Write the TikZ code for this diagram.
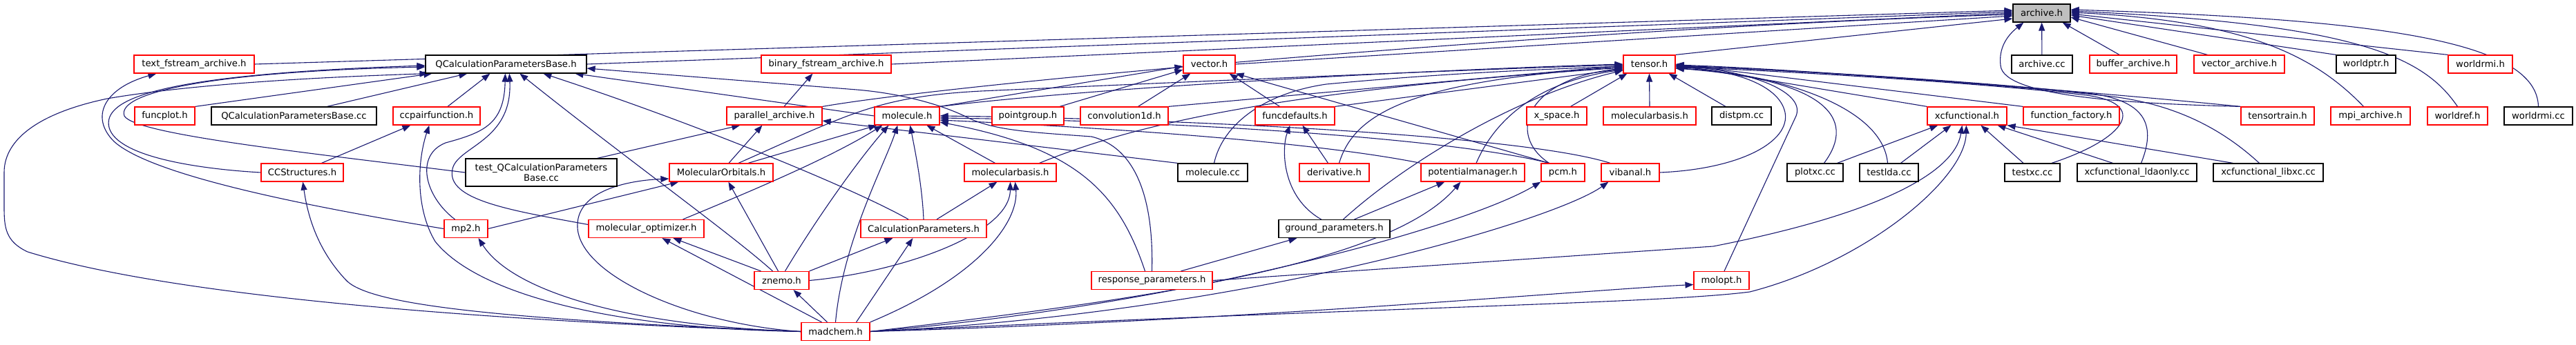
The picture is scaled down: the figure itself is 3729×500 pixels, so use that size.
\documentclass[tikz,border=0pt]{standalone}
\usepackage{fontspec}
\setmainfont{DejaVu Sans}
\usetikzlibrary{arrows.meta}
\pgfdeclarelayer{bg}
\pgfsetlayers{bg,main}
\definecolor{edgec}{HTML}{191970}
\definecolor{redb}{HTML}{FF0000}
\definecolor{grayf}{HTML}{BFBFBF}
\newcommand\mk[6]{\node[#5,minimum width=#4pt] (#1) at (#2,#3) {#6};}
\begin{document}
\begin{tikzpicture}[x=1pt,y=-1pt,
  box/.style={draw, line width=1.2pt, inner sep=1pt, minimum height=26pt, fill=white, font=\fontsize{13.2}{15}\selectfont},
  rbox/.style={box, draw=redb},
  kbox/.style={box, draw=black},
  gbox/.style={box, draw=black, fill=grayf},
  e/.style={draw=edgec, line width=1.1pt, -{Triangle[length=12pt,width=9pt]}}]
\useasboundingbox (0,0) rectangle (3729,500);
% row 0
\mk{arc}{2955.5}{19}{83}{gbox}{archive.h}
% row 1
\mk{tfa}{281}{93}{174}{rbox}{text\_fstream\_archive.h}
\mk{qcb}{732.5}{93}{233}{kbox}{QCalculationParametersBase.h}
\mk{bfa}{1196}{93}{188}{rbox}{binary\_fstream\_archive.h}
\mk{vec}{1750.5}{93}{75}{rbox}{vector.h}
\mk{ten}{2387.5}{93}{75}{rbox}{tensor.h}
\mk{acc}{2956}{93}{88}{kbox}{archive.cc}
\mk{buf}{3088}{93}{126}{rbox}{buffer\_archive.h}
\mk{vea}{3241.5}{93}{131}{rbox}{vector\_archive.h}
\mk{wpt}{3425}{93}{86}{kbox}{worldptr.h}
\mk{wrh}{3590.5}{93}{93}{rbox}{worldrmi.h}
% row 2
\mk{fpl}{238.5}{168}{87}{rbox}{funcplot.h}
\mk{qcc}{425.5}{168}{239}{kbox}{QCalculationParametersBase.cc}
\mk{ccp}{632}{168}{126}{rbox}{ccpairfunction.h}
\mk{par}{1121}{168}{138}{rbox}{parallel\_archive.h}
\mk{mol}{1313}{168}{94}{rbox}{molecule.h}
\mk{pgr}{1488}{168}{104}{rbox}{pointgroup.h}
\mk{cv1}{1627.5}{168}{127}{rbox}{convolution1d.h}
\mk{fdf}{1874.5}{168}{115}{rbox}{funcdefaults.h}
\mk{xsp}{2253.5}{168}{87}{rbox}{x\_space.h}
\mk{mbb}{2388}{168}{134}{rbox}{molecularbasis.h}
\mk{dpm}{2521}{168}{86}{kbox}{distpm.cc}
\mk{xcf}{2847.5}{168}{115}{rbox}{xcfunctional.h}
\mk{ffa}{2998.5}{168}{139}{rbox}{function\_factory.h}
\mk{ttr}{3297}{168}{106}{rbox}{tensortrain.h}
\mk{mpa}{3431.5}{168}{115}{rbox}{mpi\_archive.h}
\mk{wrf}{3557.5}{168}{87}{rbox}{worldref.h}
\mk{wrc}{3674.5}{168}{99}{kbox}{worldrmi.cc}
% row 3
\mk{ccs}{437.5}{250}{119}{rbox}{CCStructures.h}
\mk{tqc}{783.5}{250}{219}{kbox,minimum height=40pt,align=center}{test\_QCalculationParameters\\Base.cc}
\mk{mor}{1044}{250}{150}{rbox}{MolecularOrbitals.h}
\mk{mba}{1462.5}{250}{133}{rbox}{molecularbasis.h}
\mk{mcc}{1755.5}{250}{101}{kbox}{molecule.cc}
\mk{der}{1931.5}{250}{101}{rbox}{derivative.h}
\mk{pot}{2132}{250}{150}{rbox}{potentialmanager.h}
\mk{pcm}{2262.5}{250}{63}{rbox}{pcm.h}
\mk{vib}{2360}{250}{84}{rbox}{vibanal.h}
\mk{pxc}{2627.5}{250}{81}{kbox}{plotxc.cc}
\mk{tld}{2734.5}{250}{85}{kbox}{testlda.cc}
\mk{txc}{2942}{250}{80}{kbox}{testxc.cc}
\mk{xld}{3093.5}{250}{173}{kbox}{xcfunctional\_ldaonly.cc}
\mk{xlb}{3283.5}{250}{159}{kbox}{xcfunctional\_libxc.cc}
% row 4
\mk{mp2}{674.5}{331.5}{63}{rbox}{mp2.h}
\mk{mop}{935.5}{331.5}{167}{rbox}{molecular\_optimizer.h}
\mk{cpa}{1337}{331.5}{182}{rbox}{CalculationParameters.h}
\mk{gpa}{1931.5}{331.5}{161}{kbox}{ground\_parameters.h}
% row 5
\mk{zne}{1131.5}{406.5}{79}{rbox}{znemo.h}
\mk{rsp}{1667.5}{406.5}{175}{rbox}{response\_parameters.h}
\mk{mlo}{2492}{406.5}{80}{rbox}{molopt.h}
% row 6
\mk{mad}{1209.5}{480.5}{99}{rbox}{madchem.h}

\begin{pgfonlayer}{bg}
% archive.h
\draw[e] (tfa.east) -- ([yshift=4pt]arc.west);
\draw[e] (qcb.east) -- ([yshift=2pt]arc.west);
\draw[e] (bfa.east) -- ([yshift=0pt]arc.west);
\draw[e] (par.north east) .. controls (1400,118) and (2300,40) .. ([yshift=-2pt]arc.west);
\draw[e] (vec.east) -- ([yshift=-4pt]arc.west);
\draw[e] (ten.north east) -- ([yshift=-8pt]arc.west);
\draw[e] (acc) -- (arc);
\draw[e] (ttr.north west) .. controls (3080,150) and (2900,140) .. (2896,95) .. controls (2893,70) and (2905,52) .. ([xshift=16pt]arc.south west);
\draw[e] ([xshift=-20pt]buf.north) -- ([xshift=-12pt]arc.south east);
\draw[e] ([xshift=-46pt]vea.north) -- ([yshift=-6pt]arc.east);
\draw[e] (wpt.north west) -- ([yshift=-3pt]arc.east);
\draw[e] (wrh.north west) -- ([yshift=-1pt]arc.east);
\draw[e] (wrc.north) .. controls (3672,60) and (3450,28) .. ([yshift=5pt]arc.east);
\draw[e] ([xshift=-10pt]mpa.north) .. controls (3350,80) and (3250,30) .. ([yshift=1pt]arc.east);
\draw[e] (wrf.north) .. controls (3510,85) and (3420,35) .. ([yshift=3pt]arc.east);
% QCalculationParametersBase.h
\draw[e] (fpl.north east) -- ([xshift=10pt]qcb.south west);
\draw[e] ([xshift=48pt]qcc.north) -- ([xshift=61pt]qcb.south west);
\draw[e] ([xshift=16pt]ccp.north) -- ([xshift=94pt]qcb.south west);
\draw[e] ([xshift=-16pt]mp2.north) .. controls (615,285) and (600,225) .. (645,207) .. controls (700,192) and (730,180) .. ([xshift=116pt]qcb.south west);
\draw[e] ([yshift=6pt]mop.west) .. controls (740,305) and (645,290) .. (655,245) .. controls (662,212) and (742,205) .. ([xshift=122pt]qcb.south west);
\draw[e] ([xshift=-13pt]zne.north) .. controls (1060,340) and (900,225) .. ([xshift=137pt]qcb.south west);
\draw[e] ([xshift=-22pt]cpa.north) .. controls (1240,275) and (1010,180) .. ([xshift=171pt]qcb.south west);
\draw[e] (mol.west) -- ([xshift=217pt]qcb.south west);
\draw[e] (rsp.north) .. controls (1670,300) and (1650,215) .. (1580,198) .. controls (1500,192) and (1440,190) .. (1400,170) .. controls (1360,150) and (1300,135) .. (1240,130) -- ([yshift=-6pt]qcb.east);
\draw[e] (ccs.west) .. controls (290,245) and (170,228) .. (158,185) .. controls (148,145) and (220,108) .. ([yshift=-2pt]qcb.west);
\draw[e] (tqc.west) .. controls (450,222) and (195,195) .. (180,168) .. controls (168,135) and (300,104) .. ([yshift=-4pt]qcb.west);
\draw[e] (mad.west) .. controls (700,465) and (250,430) .. (40,365) .. controls (8,350) and (6,330) .. (6,300) -- (6,250) .. controls (6,200) and (60,163) .. (155,143) .. controls (300,118) and (520,110) .. ([xshift=4pt]qcb.south west);
% text_fstream_archive.h
\draw[e] (mp2.west) .. controls (450,300) and (220,255) .. (165,205) .. controls (130,170) and (150,128) .. ([xshift=33pt]tfa.south west);
% binary_fstream_archive.h
\draw[e] ([xshift=14pt]par.north) -- ([xshift=75pt]bfa.south west);
% parallel_archive.h
\draw[e] ([xshift=81pt]tqc.north) -- ([xshift=20pt]par.south west);
\draw[e] ([xshift=11pt]mor.north) -- ([xshift=52pt]par.south west);
\draw[e] (mcc.north west) -- ([yshift=-7pt]par.east);
% vector.h
\draw[e] ([xshift=46pt]pgr.north) -- ([yshift=-8pt]vec.west);
\draw[e] ([xshift=20pt]cv1.north) -- ([xshift=11pt]vec.south west);
\draw[e] ([xshift=-22pt]fdf.north) -- ([xshift=-9pt]vec.south east);
\draw[e] (mol.north east) -- ([yshift=-3pt]vec.west);
\draw[e] ([xshift=-20pt]pcm.north) -- (vec.south east);
% molecule.h
\draw[e] ([xshift=39pt]mor.north) -- ([xshift=4pt]mol.south west);
\draw[e] ([xshift=53pt]mop.north) .. controls (1080,280) and (1200,230) .. ([xshift=12pt]mol.south west);
\draw[e] ([xshift=5pt]zne.north) .. controls (1180,320) and (1240,235) .. ([xshift=21pt]mol.south west);
\draw[e] (mad.north) .. controls (1220,350) and (1280,240) .. ([xshift=34pt]mol.south west);
\draw[e] (cpa.north) .. controls (1335,270) and (1325,220) .. ([xshift=52pt]mol.south west);
\draw[e] ([xshift=-22pt]mba.north) -- ([xshift=76pt]mol.south west);
\draw[e] ([xshift=-10pt]rsp.north) .. controls (1620,280) and (1560,215) .. ([yshift=-9pt]mol.east);
\draw[e] (pot.north west) .. controls (1900,205) and (1600,185) .. ([yshift=-6pt]mol.east);
\draw[e] ([xshift=-20pt]pcm.north) .. controls (2100,200) and (1700,175) .. ([yshift=-3pt]mol.east);
\draw[e] ([xshift=-29pt]vib.north) .. controls (2200,195) and (1700,172) .. (mol.east);
% molecularbasis.h (row 3)
\draw[e] ([xshift=19pt]cpa.north) -- ([xshift=-19pt]mba.south);
\draw[e] (zne.east) .. controls (1300,395) and (1462,340) .. (mba.south);
\draw[e] (mad.north east) .. controls (1420,400) and (1475,320) .. ([xshift=7pt]mba.south);
% CalculationParameters.h
\draw[e] (zne.north east) -- ([xshift=47pt]cpa.south west);
\draw[e] ([xshift=30pt]mad.north) -- ([xshift=76pt]cpa.south west);
% MolecularOrbitals.h
\draw[e] (mp2.east) -- ([xshift=14pt]mor.south west);
\draw[e] (mad.west) .. controls (1000,470) and (840,400) .. (836,330) .. controls (833,280) and (900,262) .. ([yshift=-9pt]mor.west);
\draw[e] ([xshift=-5pt]zne.north) -- ([xshift=86pt]mor.south west);
% molecular_optimizer.h
\draw[e] ([xshift=-30pt]zne.north) -- ([xshift=123pt]mop.south west);
\draw[e] ([xshift=-20pt]mad.north) -- ([xshift=107pt]mop.south west);
% znemo.h
\draw[e] ([xshift=-12pt]mad.north) -- ([xshift=17pt]zne.south);
% mp2.h
\draw[e] (mad.west) .. controls (900,472) and (740,420) .. ([xshift=18pt]mp2.south);
% ccpairfunction.h
\draw[e] ([xshift=28pt]ccs.north) -- ([xshift=26pt]ccp.south west);
\draw[e] (mad.west) .. controls (880,476) and (690,425) .. (630,350) .. controls (600,300) and (605,230) .. ([xshift=53pt]ccp.south west);
% CCStructures.h
\draw[e] (mad.west) .. controls (700,462) and (530,440) .. (500,405) .. controls (458,360) and (445,310) .. ([xshift=61pt]ccs.south west);
% funcdefaults.h
\draw[e] ([xshift=-9pt]der.north) -- ([xshift=69pt]fdf.south west);
\draw[e] ([xshift=-19pt]gpa.north) .. controls (1855,285) and (1855,215) .. ([xshift=51pt]fdf.south west);
% ground_parameters.h
\draw[e] ([xshift=42pt]rsp.north) -- ([xshift=27pt]gpa.south west);
% potentialmanager.h
\draw[e] ([xshift=29pt]gpa.north) -- ([xshift=35pt]pot.south west);
\draw[e] (mad.east) .. controls (1650,435) and (2010,385) .. ([xshift=58pt]pot.south west);
% pcm.h, vibanal.h, molopt.h
\draw[e] (mad.east) .. controls (1700,445) and (2120,330) .. (pcm.south west);
\draw[e] (mad.east) .. controls (1800,455) and (2250,320) .. ([xshift=11pt]vib.south west);
\draw[e] (mad.east) .. controls (1800,465) and (2300,420) .. ([yshift=-6pt]mlo.west);
% xcfunctional.h
\draw[e] ([xshift=32pt]pxc.north) -- ([xshift=16pt]xcf.south west);
\draw[e] ([xshift=17pt]tld.north) -- ([xshift=35pt]xcf.south west);
\draw[e] ([xshift=-13pt]txc.north) -- ([xshift=78pt]xcf.south west);
\draw[e] ([xshift=-35pt]xld.north) -- ([xshift=102pt]xcf.south west);
\draw[e] ([xshift=-51pt]xlb.north) -- (xcf.south east);
\draw[e] (rsp.east) -- (2480,357) .. controls (2720,310) and (2830,250) .. ([xshift=51pt]xcf.south west);
\draw[e] (mad.east) .. controls (2000,445) and (2400,440) .. (2533,423) .. controls (2700,380) and (2845,260) .. ([xshift=57pt]xcf.south west);
% tensor.h
\draw[e] (xcf.north west) -- ([yshift=-1pt]ten.east);
\draw[e] ([xshift=20pt]xsp.north) -- ([xshift=6pt]ten.south west);
\draw[e] (mbb.north) -- (ten.south);
\draw[e] ([xshift=-23pt]dpm.north) -- ([xshift=-10pt]ten.south east);
\draw[e] (ffa.north west) -- (ten.east);
\draw[e] ([xshift=13pt]pxc.north) .. controls (2690,170) and (2640,115) .. ([yshift=-6pt]ten.east);
\draw[e] ([xshift=-2pt]tld.north) .. controls (2725,150) and (2560,105) .. ([yshift=-6pt]ten.east);
\draw[e] ([xshift=28pt]txc.north) .. controls (3080,200) and (3110,150) .. (3020,138) .. controls (2850,118) and (2560,102) .. ([yshift=-4pt]ten.east);
\draw[e] ([xshift=6pt]xld.north) .. controls (3120,185) and (3110,148) .. (3030,136) .. controls (2850,116) and (2560,100) .. ([yshift=-3pt]ten.east);
\draw[e] ([xshift=-13pt]xlb.north) .. controls (3220,190) and (3150,148) .. (3040,138) .. controls (2850,118) and (2560,100) .. ([yshift=-2pt]ten.east);
\draw[e] (ttr.north west) .. controls (3000,130) and (2600,100) .. ([yshift=-1pt]ten.east);
\draw[e] (vib.east) .. controls (2520,245) and (2592,205) .. (2584,163) .. controls (2575,120) and (2500,100) .. ([yshift=-5pt]ten.east);
\draw[e] ([xshift=4pt]mlo.north) -- (2600,168) .. controls (2615,130) and (2520,100) .. ([yshift=-3pt]ten.east);
\draw[e] ([xshift=13pt]gpa.north) .. controls (2030,240) and (2190,140) .. ([yshift=-9pt]ten.west);
\draw[e] ([xshift=5pt]pot.north) .. controls (2165,170) and (2230,118) .. ([yshift=-8pt]ten.west);
\draw[e] ([xshift=-20pt]pcm.north) .. controls (2180,195) and (2210,115) .. ([yshift=-6pt]ten.west);
\draw[e] ([xshift=7pt]der.north) .. controls (1960,165) and (2040,118) .. ([yshift=-4pt]ten.west);
\draw[e] (cv1.north east) -- ([yshift=-2pt]ten.west);
\draw[e] ([xshift=2pt]mcc.north) .. controls (1770,180) and (1830,135) .. (1920,122) .. controls (2100,105) and (2250,100) .. ([yshift=-3pt]ten.west);
\draw[e] ([xshift=42pt]mba.north) .. controls (1620,190) and (1800,135) .. ([yshift=-5pt]ten.west);
\draw[e] ([xshift=25pt]mor.north) .. controls (1230,165) and (1270,140) .. (1420,132) .. controls (1800,115) and (2150,100) .. ([yshift=-1pt]ten.west);
\draw[e] (mol.north east) .. controls (1600,125) and (2100,100) .. (ten.west);
\draw[e] (fdf.north east) -- ([yshift=-7pt]ten.west);
\end{pgfonlayer}
\end{tikzpicture}
\end{document}
